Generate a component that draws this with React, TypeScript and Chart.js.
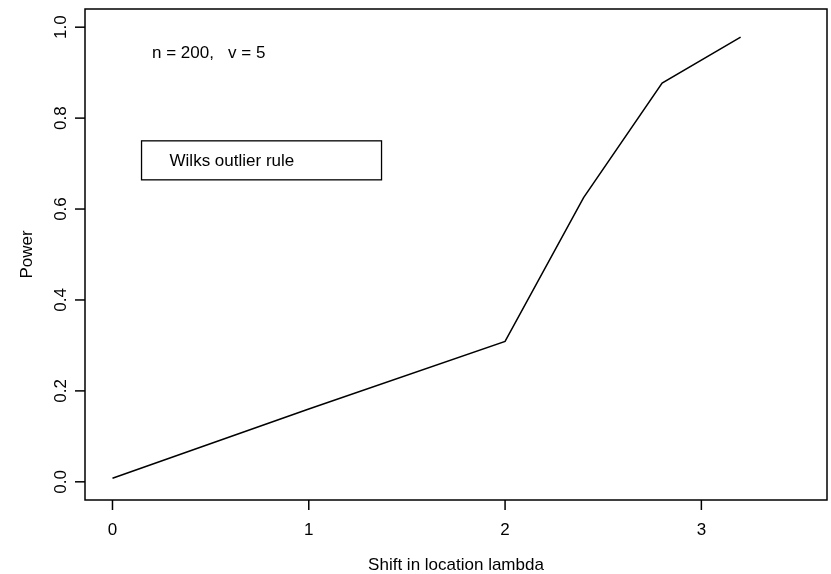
import React, { useEffect, useRef } from "react";
import { Chart, registerables } from "chart.js";

Chart.register(...registerables);

// Data
const shiftValues = [0, 1, 2, 2.4, 2.8, 3.2];
const powerValues = [0.008, 0.16, 0.309, 0.625, 0.877, 0.978];

const xTicks = [0, 1, 2, 3];
const xTickLabels = ["0", "1", "2", "3"];
const yTicks = [0, 0.2, 0.4, 0.6, 0.8, 1.0];
const yTickLabels = ["0.0", "0.2", "0.4", "0.6", "0.8", "1.0"];

const xTitle = "Shift in location lambda";
const yTitle = "Power";
const annotationText = "n = 200,   v = 5";
const legendText = "Wilks outlier rule";

const FONT = '17px "Liberation Sans", Arial, sans-serif';

const rBasePlot = {
  id: "rBasePlot",
  afterDraw(chart: any) {
    const ctx = chart.ctx as CanvasRenderingContext2D;
    const xs = chart.scales.x;
    const ys = chart.scales.y;
    const area = chart.chartArea;
    ctx.save();
    ctx.strokeStyle = "#000";
    ctx.fillStyle = "#000";
    ctx.lineWidth = 1.5;
    // box
    ctx.strokeRect(area.left, area.top, area.right - area.left, area.bottom - area.top);
    ctx.font = FONT;
    // x ticks
    ctx.textAlign = "center";
    ctx.textBaseline = "middle";
    xTicks.forEach((v, i) => {
      const px = xs.getPixelForValue(v);
      ctx.beginPath();
      ctx.moveTo(px, area.bottom);
      ctx.lineTo(px, area.bottom + 10);
      ctx.stroke();
      ctx.fillText(xTickLabels[i], px, area.bottom + 30);
    });
    // y ticks
    yTicks.forEach((v, i) => {
      const py = ys.getPixelForValue(v);
      ctx.beginPath();
      ctx.moveTo(area.left, py);
      ctx.lineTo(area.left - 10, py);
      ctx.stroke();
      ctx.save();
      ctx.translate(area.left - 24, py);
      ctx.rotate(-Math.PI / 2);
      ctx.fillText(yTickLabels[i], 0, 0);
      ctx.restore();
    });
    // axis titles
    ctx.fillText(xTitle, (area.left + area.right) / 2, area.bottom + 65);
    ctx.save();
    ctx.translate(27, (area.top + area.bottom) / 2);
    ctx.rotate(-Math.PI / 2);
    ctx.fillText(yTitle, 0, 0);
    ctx.restore();
    // annotation
    ctx.fillText(annotationText, xs.getPixelForValue(0.49), ys.getPixelForValue(0.943));
    // legend box
    const lx = xs.getPixelForValue(0.148);
    const ly = ys.getPixelForValue(0.75);
    const lw = 240;
    const lh = 39;
    ctx.lineWidth = 1.3;
    ctx.strokeRect(lx, ly, lw, lh);
    ctx.textAlign = "left";
    ctx.fillText(legendText, lx + 28, ly + lh / 2 + 1);
    ctx.restore();
  },
};

export default function App() {
  const canvasRef = useRef<HTMLCanvasElement | null>(null);

  useEffect(() => {
    if (!canvasRef.current) return;
    const chart = new Chart(canvasRef.current, {
      type: "scatter",
      data: {
        datasets: [
          {
            label: legendText,
            data: shiftValues.map((x, i) => ({ x, y: powerValues[i] })),
            showLine: true,
            borderColor: "#000",
            borderWidth: 1.5,
            pointRadius: 0,
            fill: false,
            tension: 0,
          },
        ],
      },
      options: {
        responsive: false,
        animation: false,
        layout: { padding: { left: 85, right: 4, top: 9, bottom: 74 } },
        plugins: {
          legend: { display: false },
          tooltip: { enabled: false },
        },
        scales: {
          x: { type: "linear", min: -0.14, max: 3.64, display: false },
          y: { type: "linear", min: -0.04, max: 1.04, display: false },
        },
      },
      plugins: [rBasePlot],
    });
    return () => chart.destroy();
  }, []);

  return (
    <div style={{ position: "absolute", left: 0, top: 0, width: 831, height: 574, background: "#fff" }}>
      <canvas ref={canvasRef} width={831} height={574} />
    </div>
  );
}
